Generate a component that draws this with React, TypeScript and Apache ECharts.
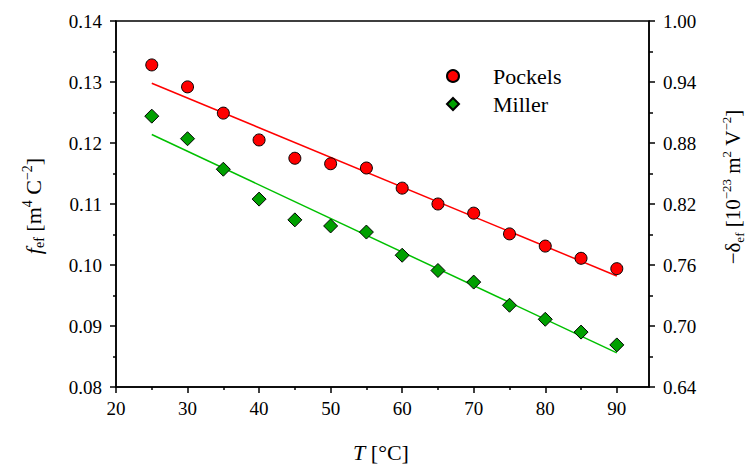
import React, { useEffect, useRef } from "react";
import * as echarts from "echarts";

const temps = [25, 30, 35, 40, 45, 50, 55, 60, 65, 70, 75, 80, 85, 90];
const pockels = [0.1328, 0.1292, 0.1249, 0.1205, 0.1175, 0.1166, 0.1159, 0.1126, 0.11, 0.1085, 0.1051, 0.1031, 0.1011, 0.0994];
const miller = [0.1244, 0.1207, 0.1157, 0.1108, 0.1074, 0.1064, 0.1054, 0.1016, 0.0991, 0.0972, 0.0934, 0.0911, 0.089, 0.0869];
const fitT = [25, 90];
const pockelsFit = [0.1298, 0.0982];
const millerFit = [0.1214, 0.0856];
const xMajor = [20, 30, 40, 50, 60, 70, 80, 90];
const xMinor = [25, 35, 45, 55, 65, 75, 85];

const FONT = "Liberation Serif";

export default function App() {
  const ref = useRef<HTMLDivElement>(null);
  useEffect(() => {
    if (!ref.current) return;
    const chart = echarts.init(ref.current, null, { renderer: "svg" });
    const axisLine = { show: true, lineStyle: { color: "#000", width: 1.5 } };
    const label = { fontFamily: FONT, fontSize: 19, color: "#000" };
    const richBase = (size: number, small: number) => ({
      n: { fontFamily: FONT, fontSize: size, color: "#000", lineHeight: 26 },
      i: { fontFamily: FONT, fontSize: size, fontStyle: "italic", color: "#000", lineHeight: 26 },
      sup: { fontFamily: FONT, fontSize: small, color: "#000", lineHeight: 14, verticalAlign: "top" },
      sub: { fontFamily: FONT, fontSize: small, color: "#000", lineHeight: 14, verticalAlign: "bottom" },
    });
    chart.setOption({
      animation: false,
      backgroundColor: "#fff",
      textStyle: { fontFamily: FONT, color: "#000" },
      grid: { left: 116, right: 103, top: 21, bottom: 79, show: true, borderColor: "#000", borderWidth: 1.5, backgroundColor: "transparent" },
      legend: {
        orient: "vertical",
        left: 441,
        top: 59,
        itemWidth: 12,
        itemHeight: 12,
        itemGap: 4,
        data: ["Pockels", "Miller"],
        textStyle: { fontFamily: FONT, fontSize: 22, color: "#000", lineHeight: 24, padding: [0, 0, 0, 29] },
      },
      xAxis: [
        {
          type: "value", min: 20, max: 94.5, interval: 10, position: "bottom",
          axisLine,
          splitLine: { show: false },
          axisTick: { show: true, inside: false, length: 6, customValues: xMajor, lineStyle: { color: "#000", width: 1.5 } },
          axisLabel: { ...label, customValues: xMajor, margin: 12 },
        },
        {
          type: "value", min: 20, max: 94.5, position: "bottom",
          axisLine: { show: false },
          splitLine: { show: false },
          axisTick: { show: true, inside: false, length: 3, customValues: xMinor, lineStyle: { color: "#000", width: 1.5 } },
          axisLabel: { show: false },
        },
      ],
      yAxis: [
        {
          type: "value", min: 0.08, max: 0.14, interval: 0.01, position: "left",
          axisLine,
          splitLine: { show: false },
          axisTick: { show: true, inside: false, length: 6, lineStyle: { color: "#000", width: 1.5 } },
          minorTick: { show: true, splitNumber: 2, length: 3, lineStyle: { color: "#000", width: 1.5 } },
          minorSplitLine: { show: false },
          axisLabel: { ...label, margin: 14, formatter: (v: number) => v.toFixed(2) },
        },
        {
          type: "value", min: 0.64, max: 1.0, interval: 0.06, position: "right",
          axisLine,
          splitLine: { show: false },
          axisTick: { show: true, inside: false, length: 6, lineStyle: { color: "#000", width: 1.5 } },
          minorTick: { show: true, splitNumber: 2, length: 4, lineStyle: { color: "#000", width: 1.5 } },
          minorSplitLine: { show: false },
          axisLabel: { ...label, margin: 14, formatter: (v: number) => v.toFixed(2) },
        },
      ],
      series: [
        {
          name: "Pockels fit", type: "line", xAxisIndex: 0, yAxisIndex: 0, symbol: "none",
          data: fitT.map((t, k) => [t, pockelsFit[k]]), lineStyle: { color: "#ff0000", width: 1.5 }, z: 1,
        },
        {
          name: "Miller fit", type: "line", xAxisIndex: 0, yAxisIndex: 0, symbol: "none",
          data: fitT.map((t, k) => [t, millerFit[k]]), lineStyle: { color: "#00c000", width: 1.5 }, z: 1,
        },
        {
          name: "Pockels", type: "scatter", xAxisIndex: 0, yAxisIndex: 0, symbol: "circle", symbolSize: 12,
          data: temps.map((t, k) => [t, pockels[k]]),
          itemStyle: { color: "#ff0000", borderColor: "#000", borderWidth: 1, opacity: 1 }, z: 3,
        },
        {
          name: "Miller", type: "scatter", xAxisIndex: 0, yAxisIndex: 0, symbol: "diamond", symbolSize: 14,
          data: temps.map((t, k) => [t, miller[k]]),
          itemStyle: { color: "#00a000", borderColor: "#000", borderWidth: 1, opacity: 1 }, z: 3,
        },
      ],
      graphic: [
        {
          type: "text", x: 33, y: 206, rotation: Math.PI / 2,
          style: {
            text: "{i|f}{sub|ef}{n| [m}{sup|4}{n| C}{sup|−2}{n|]}",
            align: "center", verticalAlign: "middle", rich: richBase(22, 14),
          },
        },
        {
          type: "text", x: 733, y: 187, rotation: Math.PI / 2,
          style: {
            text: "{n|−δ}{sub|ef}{n| [10}{sup|−23}{n| m}{sup|2}{n| V}{sup|−2}{n|]}",
            align: "center", verticalAlign: "middle", rich: richBase(21, 13),
          },
        },
        {
          type: "text", x: 381, y: 452,
          style: {
            text: "{i|T}{n| [°C]}",
            align: "center", verticalAlign: "middle", rich: richBase(22, 14),
          },
        },
      ],
    });
    return () => chart.dispose();
  }, []);
  return <div ref={ref} style={{ width: 752, height: 466, position: "absolute", left: 0, top: 0 }} />;
}
